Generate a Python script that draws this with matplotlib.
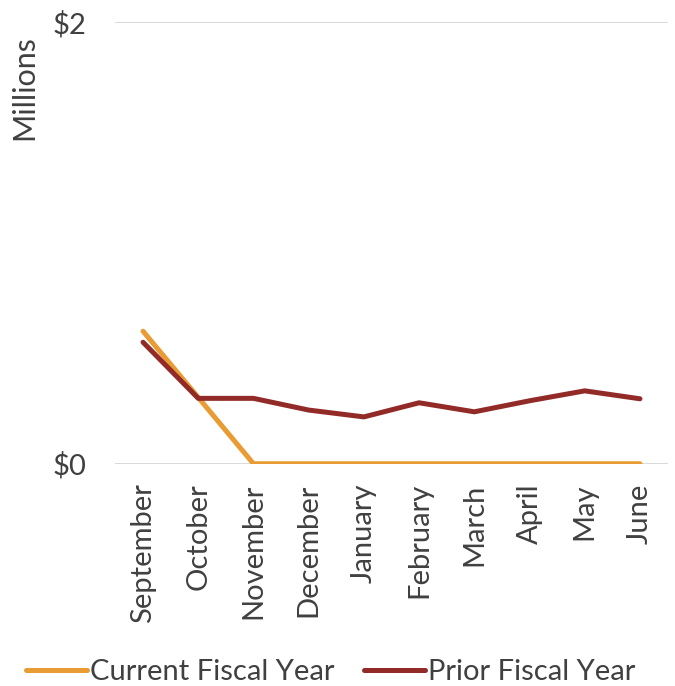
import numpy as np
import matplotlib
matplotlib.use('Agg')
import matplotlib.pyplot as plt

months = ['September', 'October', 'November', 'December', 'January',
          'February', 'March', 'April', 'May', 'June']
current_fy = [0.60, 0.30, 0, 0, 0, 0, 0, 0, 0, 0]
prior_fy = [0.55, 0.296, 0.296, 0.243, 0.212, 0.276, 0.235, 0.285, 0.330, 0.294]
yticks = [0, 2]
ylabels = ['$0', '$2']

plt.rcParams['font.family'] = ['Lato', 'DejaVu Sans']
txt = '#404040'

fig = plt.figure(figsize=(6.75, 6.86), dpi=100)
ax = fig.add_axes([0.171, 0.324, 0.818, 0.644])

x = np.arange(len(months))
ax.plot(x, current_fy, color='#E99C33', lw=3.6, solid_capstyle='round',
        solid_joinstyle='round', label='Current Fiscal Year', zorder=3)
ax.plot(x, prior_fy, color='#922B27', lw=3.6, solid_capstyle='round',
        solid_joinstyle='round', label='Prior Fiscal Year', zorder=4)

ax.set_xlim(-0.5, len(months) - 0.5)
ax.set_ylim(0, 2)
ax.set_yticks(yticks)
ax.set_yticklabels(ylabels, fontsize=21, color=txt)
ax.set_xticks(x)
ax.set_xticklabels(months, rotation=90, fontsize=21, color=txt)
ax.tick_params(axis='x', length=0, pad=14)
ax.tick_params(axis='y', length=0, pad=21)
ax.grid(axis='y', color='#d9d9d9', lw=1.4, zorder=0)
ax.set_axisbelow(True)
for s in ax.spines.values():
    s.set_visible(False)

fig.text(0.036, 0.872, 'Millions', rotation=90, fontsize=22, color=txt,
         ha='center', va='center')

fig.legend(loc='lower center', bbox_to_anchor=(0.49, -0.037), ncol=2, frameon=False,
           fontsize=21, labelcolor=txt, handlelength=2.1, handletextpad=0.1,
           columnspacing=1.0)

fig.savefig('out.png', dpi=100)
